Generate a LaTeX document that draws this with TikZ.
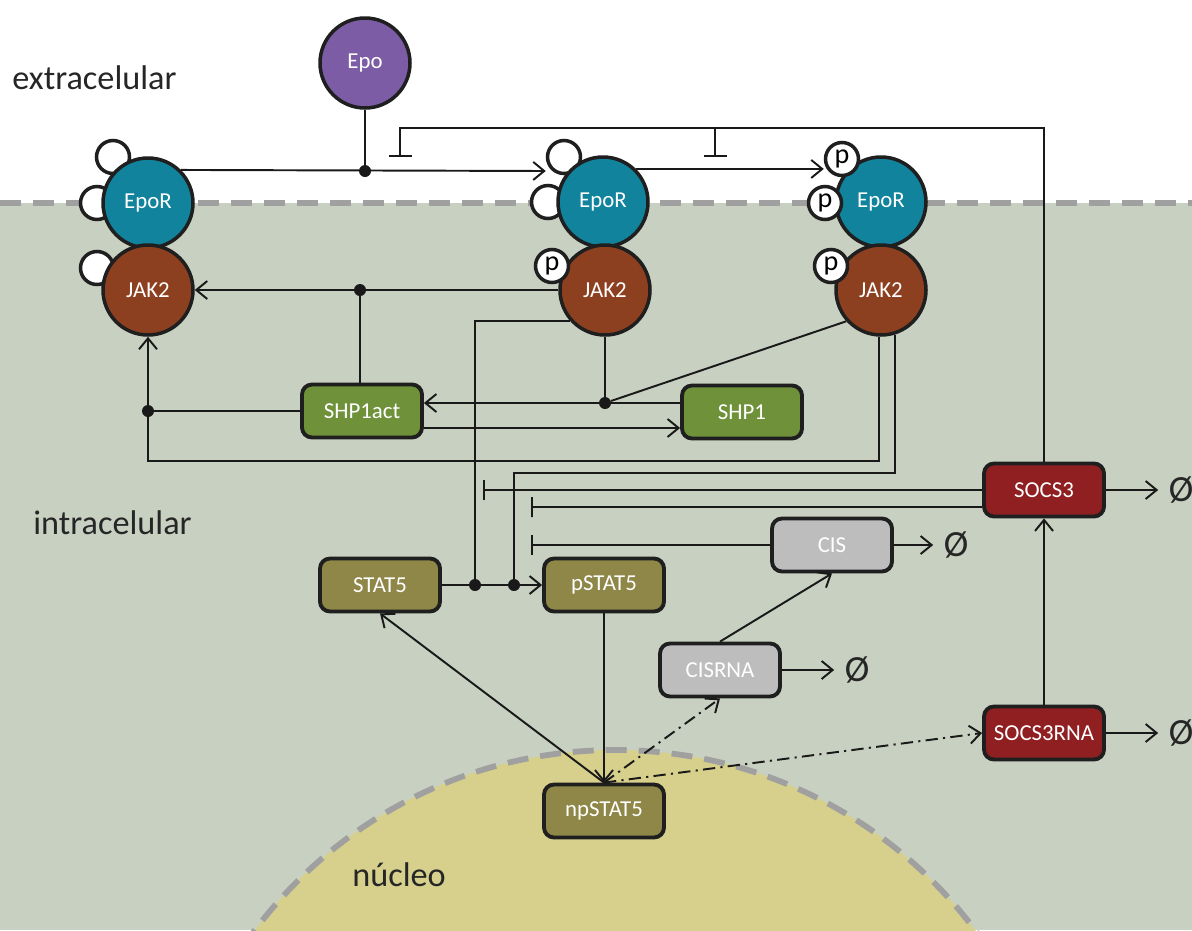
\documentclass[tikz,border=0pt]{standalone}
\usepackage{fontspec}
\setmainfont{Carlito}
\usetikzlibrary{positioning}
\usetikzlibrary{arrows.meta}
\tikzset{>={Straight Barb[length=2.2mm,width=3.6mm]}}
\definecolor{epopurple}{HTML}{7B5CA5}
\definecolor{eporteal}{HTML}{11839D}
\definecolor{jakbrown}{HTML}{8D401F}
\definecolor{shpgreen}{HTML}{6E9139}
\definecolor{statolive}{HTML}{8E8748}
\definecolor{cisgray}{HTML}{BDBDBD}
\definecolor{socsred}{HTML}{8F1F21}
\definecolor{cytoplasm}{HTML}{C8D0C1}
\definecolor{nucleusfill}{HTML}{D6D08C}
\definecolor{dashgray}{HTML}{A0A0A0}

\begin{document}
\begin{tikzpicture}[x=0.02cm, y=-0.02cm, protein/.style={circle, draw=black!88, line width=2pt, minimum size=1.8cm, inner sep=0pt, text=white, font=\fontsize{13}{15}\selectfont}, site/.style={circle, draw=black!88, line width=2pt, fill=white, minimum size=0.66cm, inner sep=0pt, font=\fontsize{16}{18}\selectfont}, species/.style={rounded corners=0.2cm, draw=black!88, line width=2.2pt, minimum width=2.4cm, minimum height=1.06cm, text=white, font=\fontsize{13}{15}\selectfont}, link/.style={line width=1.1pt, draw=black!90}, transcribe/.style={dash pattern=on 7pt off 3pt on 1.2pt off 3pt}, dot/.style={circle, fill=black!90, inner sep=0pt, minimum size=0.24cm}, regiontext/.style={font=\fontsize{19.5}{22}\selectfont, text=black!85, inner sep=0pt}, sink/.style={font=\fontsize{21}{24}\selectfont, text=black!85, inner sep=0pt, minimum width=0.9cm}, membrane/.style={draw=dashgray, line width=3.3pt, dash pattern=on 0.42cm off 0.24cm}]

    \useasboundingbox (0,0) rectangle (1192,930);

    %Compartments
    \fill[white] (0,0) rectangle (1192,203);
    \fill[cytoplasm] (0,203) rectangle (1192,930);
    \begin{scope}
    \clip (0,0) rectangle (1192,930);
    \fill[nucleusfill] (615,1200) circle (450);
    \draw[membrane] (615,1200) circle (450);
    \end{scope}
    \draw[membrane] (0,203) -- (1192,203);
    \node[regiontext, anchor=west](extra) at (12,78){extracelular};
    \node[regiontext, anchor=west](intra) at (33,523){intracelular};
    \node[regiontext, anchor=west](nucleo) at (352,875){núcleo};

    %Nodes
    \node[site](siteA1) at (113,157){};
    \node[site](siteA2) at (97,203){};
    \node[site](siteA3) at (97,268){};
    \node[site](siteB1) at (564,157){};
    \node[site](siteB2) at (548,202){};
    \node[protein, fill=epopurple](epo) at (365,63){Epo};
    \node[protein, fill=eporteal](eporA) at (148,203){EpoR};
    \node[protein, fill=jakbrown](jakA) at (148,290){JAK2};
    \node[protein, fill=eporteal](eporB) at (603,202){EpoR};
    \node[protein, fill=jakbrown](jakB) at (605,290){JAK2};
    \node[protein, fill=eporteal](eporC) at (881,202){EpoR};
    \node[protein, fill=jakbrown](jakC) at (881,290){JAK2};
    \node[site](siteB3) at (552,266){p};
    \node[site](siteC1) at (842,159){p};
    \node[site](siteC2) at (825,203){p};
    \node[site](siteC3) at (831,266){p};

    \node[species, fill=shpgreen](shpact) at (362,411){SHP1act};
    \node[species, fill=shpgreen](shp) at (742,412){SHP1};
    \node[species, fill=statolive](stat) at (380,585){STAT5};
    \node[species, fill=statolive](pstat) at (604,585){pSTAT5};
    \node[species, fill=statolive](npstat) at (604,811){npSTAT5};
    \node[species, fill=cisgray](cis) at (832,545){CIS};
    \node[species, fill=cisgray](cisrna) at (720,670){CISRNA};
    \node[species, fill=socsred](socs) at (1044,490){SOCS3};
    \node[species, fill=socsred](socsrna) at (1044,733){SOCS3RNA};

    \node[sink](cisnull) at (956,545){Ø};
    \node[sink](cisrnanull) at (857,670){Ø};
    \node[sink](socsnull) at (1181,490){Ø};
    \node[sink](socsrnanull) at (1181,733){Ø};

    \node[dot](dotepo) at (365,171){};
    \node[dot](dotjak) at (360,290){};
    \node[dot](dotshp) at (605,403){};
    \node[dot](dotfb) at (148,411){};
    \node[dot](dotjb) at (475,585){};
    \node[dot](dotjc) at (514,585){};

    \coordinate (roofA) at (400,128);
    \coordinate (roofB) at (715,128);
    \coordinate (blockA) at (400,157);
    \coordinate (blockB) at (715,157);
    \coordinate (blockC) at (483,490);
    \coordinate (blockD) at (531,507);
    \coordinate (blockE) at (531,545);
    \coordinate (loopA) at (148,461);
    \coordinate (loopB) at (514,473);

    %Lines
    \draw[link] (epo) -- (dotepo);
    \draw[link,->] (eporA.45) -- (dotepo -| siteB1.west);
    \draw[link,->] (eporB.45) -- (eporB.45 -| siteC1.west);
    \draw[link,-{Bar[width=4.6mm]}] (socs) |- (roofA) -- (blockA);
    \draw[link,-{Bar[width=4.6mm]}] (roofB) -- (blockB);
    \draw[link,->] (jakB) -- (jakA);
    \draw[link] (dotjak) -- (dotjak |- shpact.north);
    \draw[link] (jakB.222) -| (dotjb);
    \draw[link] (jakB) -- (dotshp);
    \draw[link] (jakC.222) -- (dotshp);
    \draw[link,->] ([yshift=0.18cm]shp.west) -- ([yshift=0.18cm]shp.west -| shpact.east);
    \draw[link,->] ([yshift=-0.34cm]shpact.east) -- ([yshift=-0.34cm]shpact.east -| shp.west);
    \draw[link] (shpact) -- (dotfb);
    \draw[link,->] (dotfb) -- (jakA);
    \draw[link] (jakC.268) |- (loopA) -- (dotfb);
    \draw[link] (jakC.-73) |- (loopB) -- (dotjc);
    \draw[link,->] (stat) -- (pstat);
    \draw[link,-{Bar[width=4mm]}] (socs) -- (blockC);
    \draw[link,-{Bar[width=4mm]}] ([yshift=-0.34cm]socs.west) -- (blockD);
    \draw[link,-{Bar[width=4mm]}] (cis) -- (blockE);
    \draw[link,->] (cisrna.north) -- (cis.south);
    \draw[link,->] (socsrna) -- (socs);
    \draw[link,->] (pstat) -- (npstat);
    \draw[link,->] (npstat.north) -- (stat.south);
    \draw[link,transcribe,->] (npstat.north) -- (cisrna.south);
    \draw[link,transcribe,->] (npstat.north) -- (socsrna.west);
    \draw[link,->] (cis) -- (cisnull);
    \draw[link,->] (cisrna) -- (cisrnanull);
    \draw[link,->] (socs) -- (socsnull);
    \draw[link,->] (socsrna) -- (socsrnanull);

\end{tikzpicture}
\end{document}
